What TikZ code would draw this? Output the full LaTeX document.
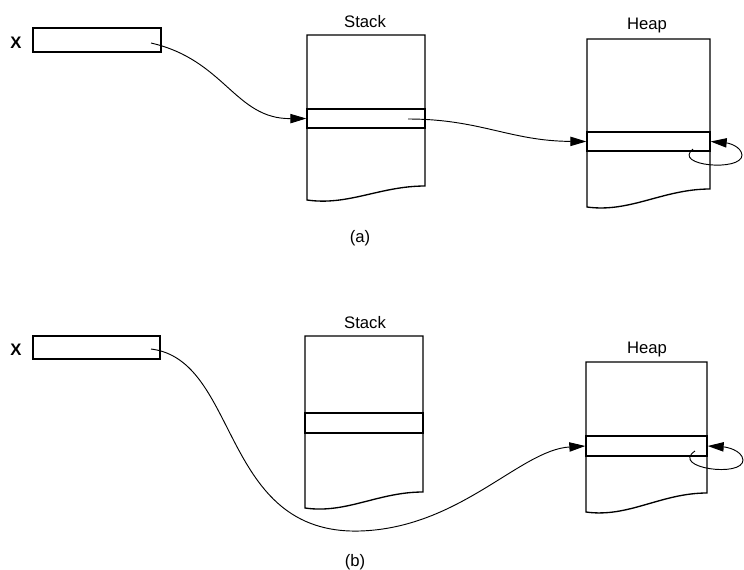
\documentclass[tikz,border=0pt]{standalone}
\usepackage{fontspec}
\newfontfamily\labelfont{Liberation Sans}
\usetikzlibrary{fit,arrows.meta}

\tikzset{
  block/.style={line width=1pt},
  slot/.style={draw, line width=1pt, inner sep=0pt},
  ptr/.style={line width=0.7pt, -{Triangle[length=12pt,width=7pt]}},
  lbl/.style={font=\labelfont\fontsize{12.5}{14}\selectfont},
}

% memory block: name, left, right, top, slot top, slot bottom, bottom left, bottom right
\newcommand{\memblock}[8]{%
  \pgfmathsetmacro{\mw}{#3-#2}
  \draw[block] (#2,#7) -- (#2,#4) -- (#3,#4) -- (#3,#8)
    .. controls ({#2+0.62*\mw},#8) and ({#2+0.35*\mw},#7+6) .. cycle;
  \node[slot, fit={(#2,#5) (#3,#6)}] (#1-slot) {};
}

\begin{document}
\begin{tikzpicture}[x=0.75pt,y=-0.75pt]
  \useasboundingbox (0,0) rectangle (744,569);

  % ---- (a) ----
  \node[lbl, font=\labelfont\bfseries\fontsize{12.5}{14}\selectfont] (xa-lbl) at (16,43) {X};
  \node[slot, fit={(33,28) (161,52)}] (xa) {};
  \coordinate (xa-ptr) at (151,43);

  \node[lbl] (sa-lbl) at (365,22) {Stack};
  \memblock{sa}{307}{425}{35}{109}{128}{200}{186}
  \coordinate (sa-ptr) at (408,119);

  \node[lbl] (ha-lbl) at (647,25) {Heap};
  \memblock{ha}{587}{710}{39}{132}{151}{207}{189}
  \coordinate (ha-loop) at (693,149);

  \draw[ptr] (xa-ptr) .. controls (225,60) and (235,119) .. (sa-slot.west);
  \draw[ptr] (sa-ptr) .. controls (480,119) and (510,141) .. (ha-slot.west);
  \draw[ptr] (ha-loop) .. controls (672,166) and (742,172) .. (742,155)
    .. controls (741,146) and (728,143) .. (ha-slot.east);

  \node[lbl] (cap-a) at (360,238) {(a)};

  % ---- (b) ----
  \node[lbl, font=\labelfont\bfseries\fontsize{12.5}{14}\selectfont] (xb-lbl) at (16,350) {X};
  \node[slot, fit={(33,336) (160,359)}] (xb) {};
  \coordinate (xb-ptr) at (151,349);

  \node[lbl] (sb-lbl) at (365,323) {Stack};
  \memblock{sb}{305}{423}{336}{413}{433}{508}{492}

  \node[lbl] (hb-lbl) at (647,349) {Heap};
  \memblock{hb}{586}{707}{362}{436}{456}{512}{493}
  \coordinate (hb-loop) at (695,451);

  \draw[ptr] (xb-ptr) .. controls (240,360) and (220,535) .. (360,531)
    .. controls (460,528) and (520,450) .. (hb-slot.west);
  \draw[ptr] (hb-loop) .. controls (670,468) and (743,478) .. (743,460)
    .. controls (742,450) and (726,447) .. (hb-slot.east);

  \node[lbl] (cap-b) at (355,562) {(b)};
\end{tikzpicture}
\end{document}
